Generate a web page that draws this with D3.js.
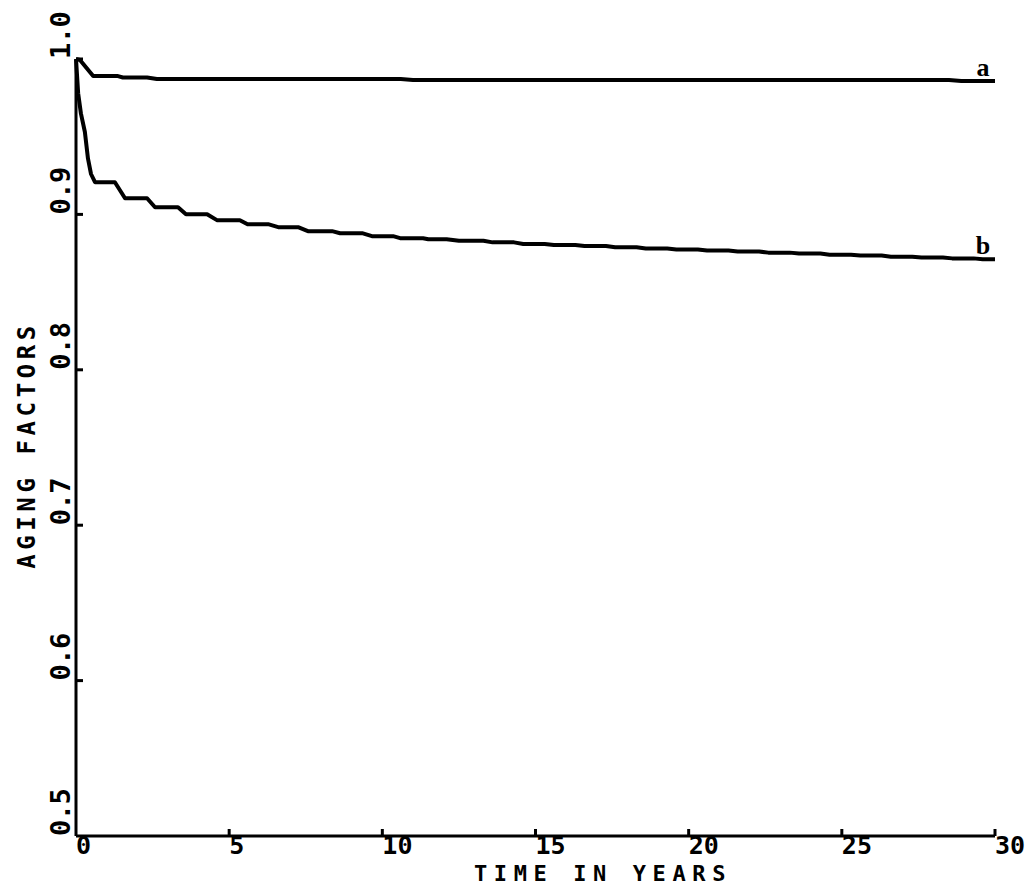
<!DOCTYPE html>
<html>
<head>
<meta charset="utf-8">
<script src="https://cdn.jsdelivr.net/npm/d3@7"></script>
<style>
body { margin: 0; background: #fff; }
text { font-family: "DejaVu Sans Mono", monospace; fill: #000; font-weight: bold; }
</style>
</head>
<body>
<div id="graphicContainer"></div>
<script>

// values
var yearTicks = [0, 5, 10, 15, 20, 25, 30]
var factorTicks = [0.5, 0.6, 0.7, 0.8, 0.9, 1.0]

var timeA = [0, 0.13, 0.56, 1.37, 1.53, 2.32, 2.64, 10.6, 11.0, 28.5, 28.9, 30]
var agingA = [1.0, 0.9994, 0.9890, 0.9890, 0.9881, 0.9881, 0.9871, 0.9871, 0.9865, 0.9865, 0.9858, 0.9858]

var timeB = [0, 0.07, 0.16, 0.29, 0.39, 0.49, 0.62, 1.27, 1.6, 2.32, 2.58, 3.33, 3.59, 4.28,
	4.6, 5.35, 5.6, 6.27, 6.6, 7.25, 7.57, 8.36, 8.62, 9.34, 9.66, 10.35, 10.58, 11.33,
	11.5, 12.1, 12.5, 13.3, 13.6, 14.3, 14.6, 15.3, 15.6, 16.3, 16.6, 17.3, 17.6, 18.3,
	18.6, 19.3, 19.6, 20.3, 20.6, 21.3, 21.6, 22.3, 22.6, 23.3, 23.6, 24.3, 24.6, 25.3,
	25.6, 26.3, 26.6, 27.3, 27.6, 28.3, 28.6, 29.3, 29.6, 30]
var agingB = [1.0, 0.978, 0.965, 0.953, 0.936, 0.926, 0.9207, 0.9207, 0.9104, 0.9104, 0.9046, 0.9046, 0.9001, 0.9001,
	0.8963, 0.8963, 0.8937, 0.8937, 0.8918, 0.8918, 0.8892, 0.8892, 0.8879, 0.8879, 0.8860, 0.8860, 0.8847, 0.8847,
	0.8840, 0.8840, 0.8830, 0.8830, 0.8820, 0.8820, 0.8810, 0.8810, 0.8803, 0.8803, 0.8796, 0.8796, 0.8788, 0.8788,
	0.8780, 0.8780, 0.8774, 0.8774, 0.8767, 0.8767, 0.8761, 0.8761, 0.8754, 0.8754, 0.8748, 0.8748, 0.8741, 0.8741,
	0.8735, 0.8735, 0.8728, 0.8728, 0.8723, 0.8723, 0.8717, 0.8717, 0.8711, 0.8711]

var seriesNames = ["a", "b"]

var width = 1035
var height = 887
var margin = {top: 59, right: 40, bottom: 51, left: 76}

var svg = d3.select("#graphicContainer").append("svg")
	.attr("width", width)
	.attr("height", height)

var x = d3.scaleLinear()
	.domain([0, 30])
	.range([margin.left, width - margin.right])

var y = d3.scaleLinear()
	.domain([0.5, 1.0])
	.range([height - margin.bottom, margin.top])

var axisStroke = 3
var tickLen = 7

// x axis: line, inward ticks, labels starting at the tick
svg.append("line")
	.attr("x1", x(0)).attr("x2", x(30))
	.attr("y1", y(0.5)).attr("y2", y(0.5))
	.attr("stroke", "#000").attr("stroke-width", axisStroke)

svg.selectAll(".xtick")
	.data(yearTicks.filter(d => d > 0))
	.enter().append("line")
	.attr("class", "xtick")
	.attr("x1", d => x(d)).attr("x2", d => x(d))
	.attr("y1", y(0.5)).attr("y2", y(0.5) - tickLen)
	.attr("stroke", "#000").attr("stroke-width", axisStroke)

svg.selectAll(".xlab")
	.data(yearTicks)
	.enter().append("text")
	.attr("class", "xlab")
	.attr("x", d => x(d))
	.attr("y", y(0.5) + 18)
	.attr("font-size", 25)
	.text(d => d)

svg.append("text")
	.attr("x", 474)
	.attr("y", 881)
	.attr("font-size", 22)
	.attr("letter-spacing", 6.6)
	.text("TIME IN YEARS")

// y axis
svg.append("line")
	.attr("x1", x(0)).attr("x2", x(0))
	.attr("y1", y(0.5)).attr("y2", y(1.0))
	.attr("stroke", "#000").attr("stroke-width", axisStroke)

svg.selectAll(".ytick")
	.data(factorTicks.filter(d => d > 0.5))
	.enter().append("line")
	.attr("class", "ytick")
	.attr("x1", x(0)).attr("x2", x(0) + tickLen)
	.attr("y1", d => y(d)).attr("y2", d => y(d))
	.attr("stroke", "#000").attr("stroke-width", axisStroke)

svg.selectAll(".ylab")
	.data(factorTicks)
	.enter().append("text")
	.attr("class", "ylab")
	.attr("transform", d => "translate(70," + y(d) + ") rotate(-90)")
	.attr("font-size", 27)
	.attr("letter-spacing", -0.5)
	.text(d => d3.format(".1f")(d))

svg.append("text")
	.attr("transform", "translate(35,445) rotate(-90)")
	.attr("text-anchor", "middle")
	.attr("font-size", 24)
	.attr("letter-spacing", 4.6)
	.text("AGING FACTORS")

// curves
var series = [
	{name: seriesNames[0], t: timeA, v: agingA},
	{name: seriesNames[1], t: timeB, v: agingB}
]

var line = d3.line()
	.x(d => x(d[0]))
	.y(d => y(d[1]))

series.forEach(function (s) {
	var pts = s.t.map((t, i) => [t, s.v[i]])

	svg.append("path")
		.datum(pts)
		.attr("d", line)
		.attr("fill", "none")
		.attr("stroke", "#000")
		.attr("stroke-width", 4)
		.attr("stroke-linejoin", "round")

	var last = pts[pts.length - 1]
	svg.append("text")
		.attr("x", x(last[0]) - 12)
		.attr("y", y(last[1]) - 5)
		.attr("text-anchor", "middle")
		.style("font-family", "'Liberation Serif', serif")
		.attr("font-size", 26)
		.text(s.name)
})

</script>
</body>
</html>
